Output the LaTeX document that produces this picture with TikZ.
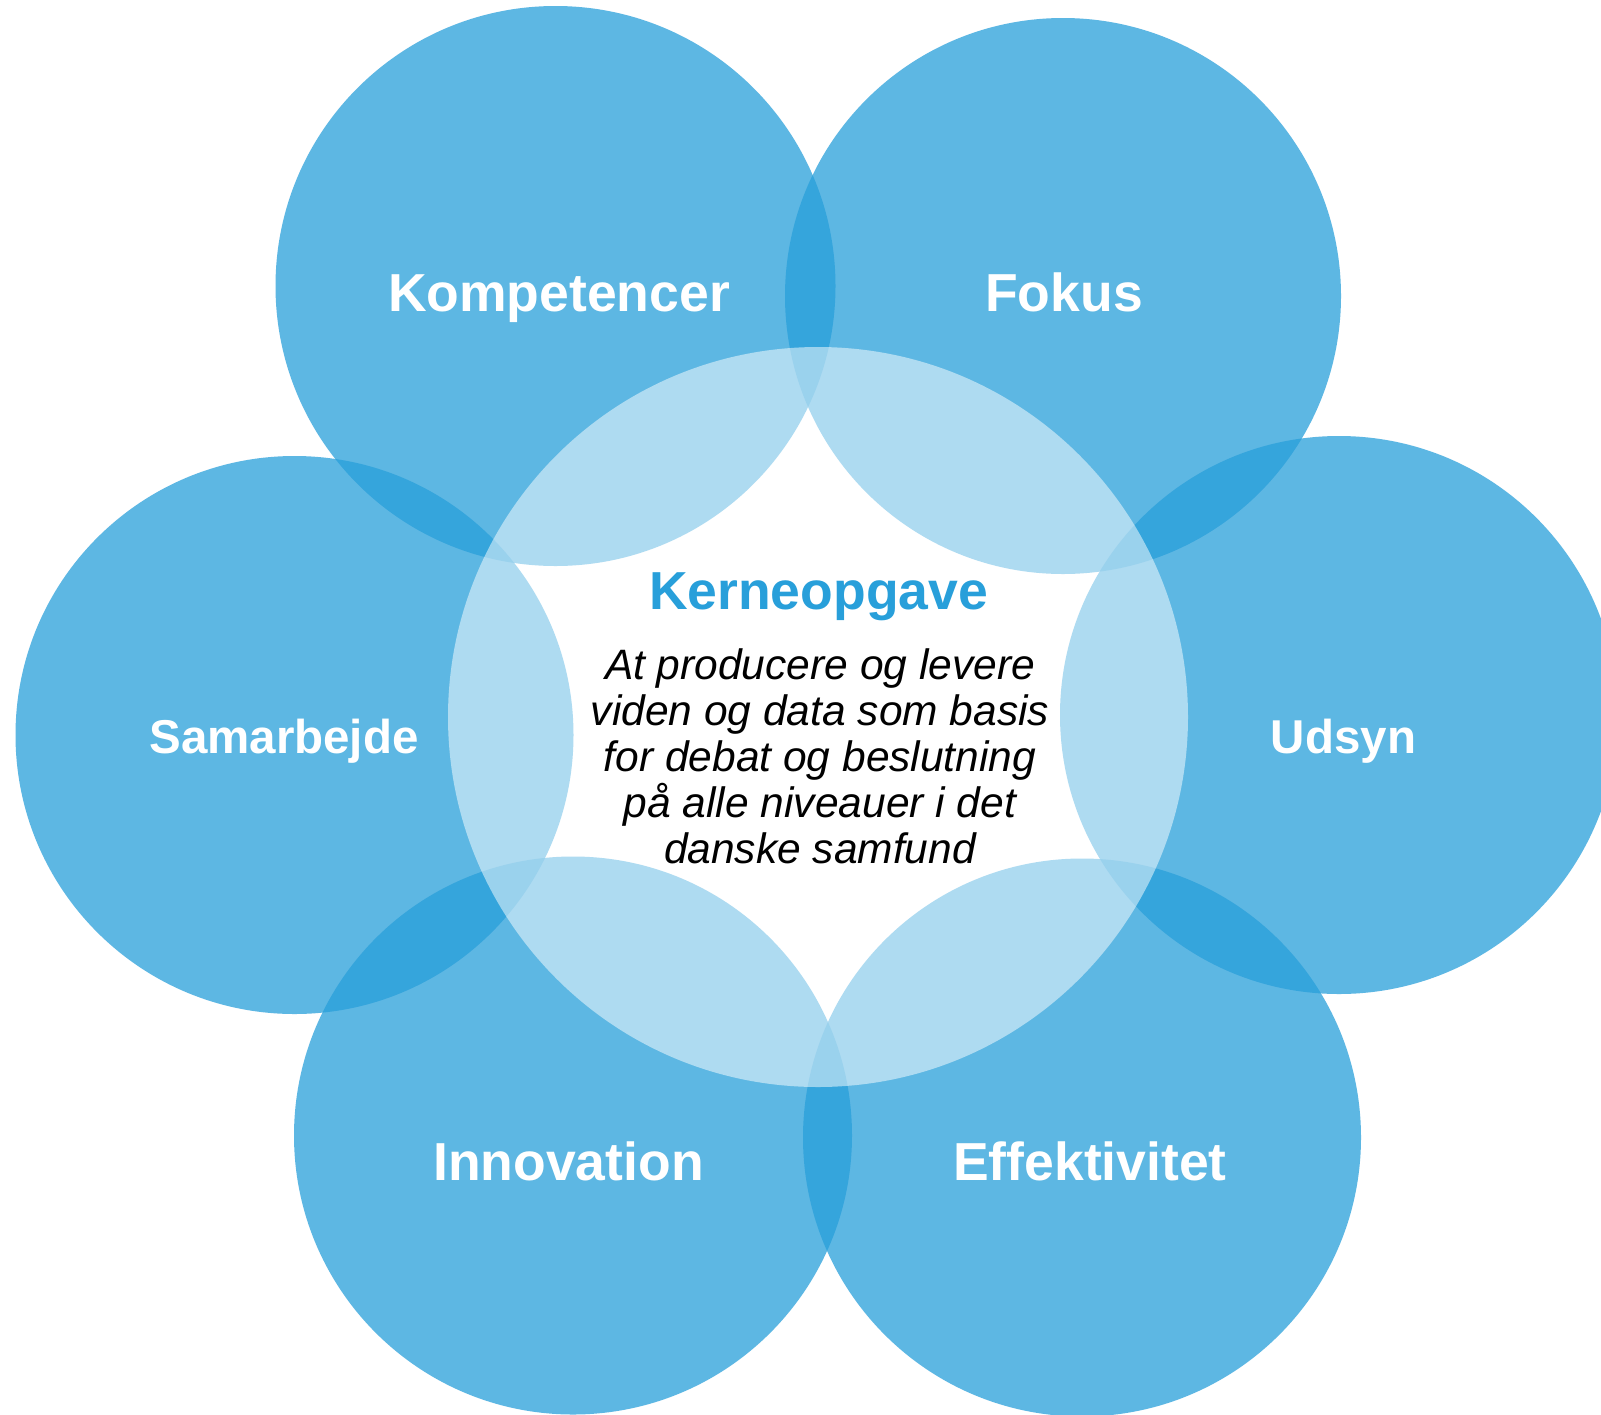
\documentclass[tikz,border=0pt]{standalone}
\usepackage{fontspec}
\setmainfont{Liberation Sans}
\definecolor{ringblue}{RGB}{40,159,218}
\begin{document}
\begin{tikzpicture}[x=1pt,y=-1pt,
  outer/.style={circle, fill=ringblue, fill opacity=0.75, minimum size=#1, inner sep=0pt},
  core/.style={circle, fill=white, fill opacity=0.5, minimum size=740pt, inner sep=0pt},
  lbl/.style={font=\fontsize{53.5}{60}\selectfont\bfseries, text=white, inner sep=0pt, anchor=base},
  lblsmall/.style={lbl, font=\fontsize{47.5}{54}\selectfont\bfseries},
  title/.style={font=\fontsize{53.5}{60}\selectfont\bfseries, text=ringblue, inner sep=0pt, anchor=base},
  body/.style={font=\fontsize{42.5}{46}\selectfont\itshape, text=black, inner sep=0pt, anchor=base}]
\useasboundingbox (0,0) rectangle (1601,1414);
\clip (0,0) rectangle (1601,1414);
\fill[white] (0,0) rectangle (1601,1414);
\node[outer=560pt] (ck) at (555.5,286) {};
\node[outer=556pt] (cf) at (1063,296) {};
\node[outer=558pt] (cs) at (294.5,735) {};
\node[outer=558pt] (cu) at (1339,715) {};
\node[outer=558pt] (ci) at (573,1135.5) {};
\node[outer=558pt] (ce) at (1082,1137.5) {};
\node[core] (cc) at (818,717) {};
\node[lbl] (tk) at (559,311.5) {Kompetencer};
\node[lbl] (tf) at (1064,311.5) {Fokus};
\node[lblsmall] (ts) at (284,753.5) {Samarbejde};
\node[lblsmall] (tu) at (1343.5,753.5) {Udsyn};
\node[lbl] (ti) at (568.5,1180) {Innovation};
\node[lbl] (te) at (1090,1180) {Effektivitet};
\node[title] (tc) at (818.5,609) {Kerneopgave};
\node[body] (l1) at (820,679) {At producere og levere};
\node[body] (l2) at (820,725) {viden og data som basis};
\node[body] (l3) at (820,771) {for debat og beslutning};
\node[body] (l4) at (820,817) {på alle niveauer i det};
\node[body] (l5) at (820,863) {danske samfund};
\end{tikzpicture}
\end{document}
